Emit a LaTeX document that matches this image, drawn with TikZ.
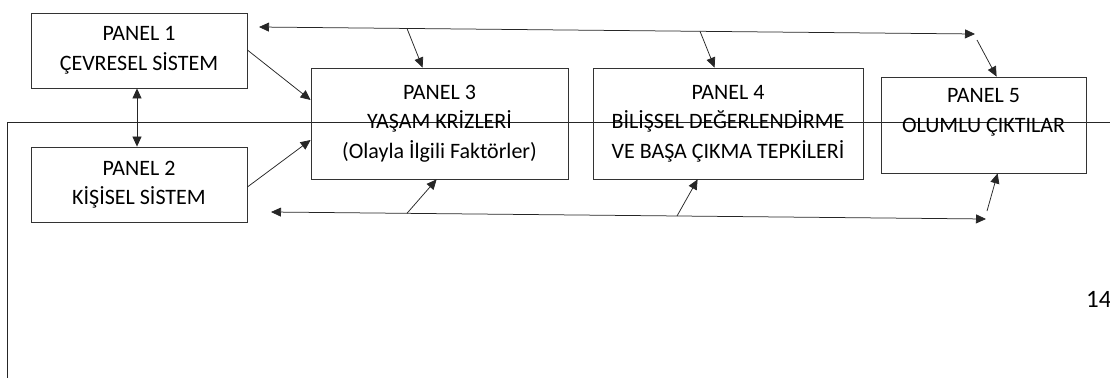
\documentclass[tikz,border=0pt]{standalone}
\usepackage{fontspec}
\setmainfont{Carlito}
\usetikzlibrary{arrows.meta}

\begin{document}
\begin{tikzpicture}[x=1pt,y=-1pt,
  panel/.style={draw=black!80, line width=0.8pt, inner sep=0pt, align=center,
    font=\fontsize{22}{29.5}\selectfont, text=black},
  tip/.tip={Triangle[length=10pt,width=9pt]},
  arr/.style={-tip, line width=0.75pt, draw=black!85},
  dbl/.style={tip-tip, line width=0.75pt, draw=black!85}]
\useasboundingbox (0,0) rectangle (1110,378);

% page frame line
\draw[line width=0.8pt, black!85] (1110,122) -- (7,122) -- (7,378);

% panels
\node[panel, minimum width=216pt, minimum height=75pt] (p1) at (139,50.5)
  {PANEL 1\\ÇEVRESEL SİSTEM};
\node[panel, minimum width=216pt, minimum height=75pt] (p2) at (139,184.5)
  {PANEL 2\\KİŞİSEL SİSTEM};
\node[panel, minimum width=257pt, minimum height=111pt] (p3) at (439.5,123.5)
  {PANEL 3\\YAŞAM KRİZLERİ\\(Olayla İlgili Faktörler)};
\node[panel, minimum width=270pt, minimum height=111pt] (p4) at (728,123.5)
  {PANEL 4\\BİLİŞSEL DEĞERLENDİRME\\VE BAŞA ÇIKMA TEPKİLERİ};
\node[panel, minimum width=205pt, minimum height=96pt] (p5) at (983.5,125)
  {PANEL 5\\OLUMLU ÇIKTILAR\\~};

% feedback lines
\coordinate (topL) at (259,27);
\coordinate (topR) at (975,34);
\coordinate (botL) at (271,212);
\coordinate (botR) at (986,219);
\draw[dbl] (topL) -- (topR);
\draw[dbl] (botL) -- (botR);

% branch points on the feedback lines
\coordinate (t3) at (407,28.5);
\coordinate (t4) at (700,31.3);
\coordinate (t5) at (977,40);
\coordinate (b3) at (407,213.3);
\coordinate (b4) at (677,216);
\coordinate (b5) at (987,211);

\draw[arr] (t3) -- ([xshift=112pt]p3.north west);
\draw[arr] (t4) -- ([xshift=122pt]p4.north west);
\draw[arr] (t5) -- ([xshift=116pt]p5.north west);
\draw[arr] (b3) -- ([xshift=126pt]p3.south west);
\draw[arr] (b4) -- ([xshift=105pt]p4.south west);
\draw[arr] (b5) -- ([xshift=117pt]p5.south west);

% system panels into panel 3
\draw[arr] ([yshift=0.5pt]p1.east) -- ([yshift=23.5pt]p3.west);
\draw[arr] ([yshift=-2.5pt]p2.east) -- ([yshift=-16.5pt]p3.west);
\draw[dbl] (p1.south -| 137,0) -- (p2.north -| 137,0);

% page number
\node[anchor=base west, inner sep=0pt, font=\fontsize{25}{25}\selectfont, text=black]
  (pg) at (1086,307) {14};
\end{tikzpicture}
\end{document}
